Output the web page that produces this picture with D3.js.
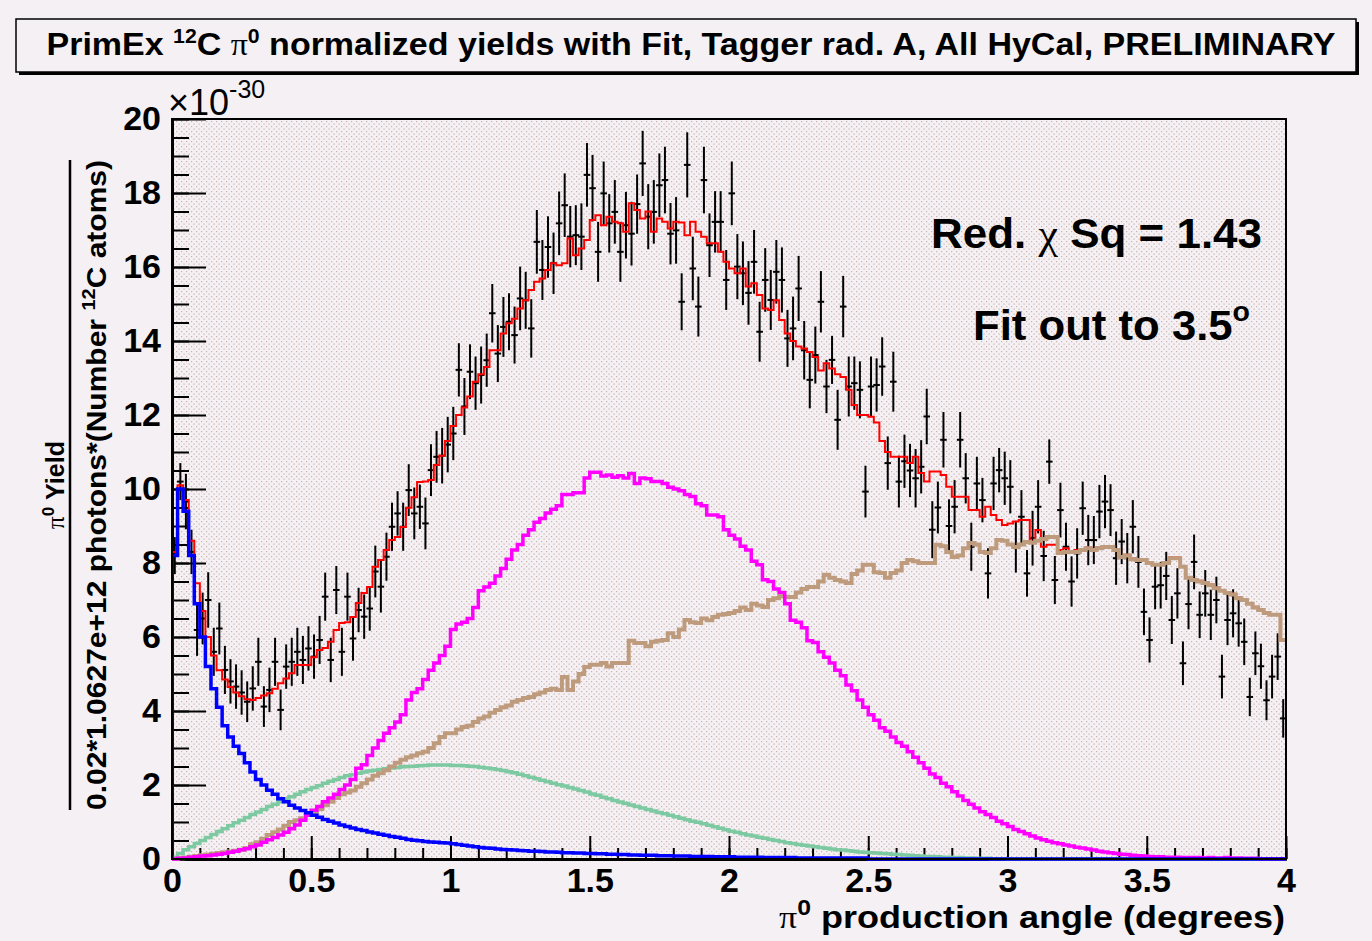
<!doctype html>
<html>
  <head>
    <meta charset="utf-8">
    <title>PrimEx 12C pi0 yields</title>
    <script src="https://cdnjs.cloudflare.com/ajax/libs/d3/7.8.5/d3.min.js"></script>
    <style>
      body { margin: 0; background: #f4f0f4; }
      svg text { font-family: "Liberation Sans", Arial, sans-serif; font-weight: bold; fill: #000; }
      .serif { font-family: "Liberation Serif", "DejaVu Serif", serif; font-weight: normal; }
    </style>
  </head>
  <body>
    <div id="chart"></div>
    <script>

    // bins of 0.02 degrees from 0 to 4 (200 bins), one row = 10 bins = 0.2 deg
    let binWidth = 0.02;

    // measured yield (units of 1e-30) and its error
    let dataYield = [
      8.2, 10.2, 9.66, 8.3, 6.19, 6.5, 7.0, 5.6, 6.23, 5.11,
      4.8, 4.66, 4.5, 4.25, 4.61, 5.33, 4.12, 4.57, 5.33, 4.03,
      5.2, 5.33, 5.6, 5.38, 5.69, 5.47, 5.92, 7.09, 5.38, 7.27,
      5.6, 7.09, 5.96, 6.73, 6.55, 6.77, 7.77, 7.36, 8.17, 8.98,
      9.34, 8.98, 9.97, 9.34, 9.52, 9.07, 10.51, 10.87, 10.9, 11.2,
      11.5, 13.22, 12.23, 13.17, 12.86, 13.08, 13.48, 14.75, 13.66, 14.38,
      14.52, 14.16, 15.15, 15.1, 14.34, 16.68, 15.92, 16.54, 16.1, 17.18,
      17.67, 16.82, 16.86, 16.82, 18.49, 18.13, 16.41, 17.99, 17.18, 17.49,
      16.41, 17.13, 16.9, 17.7, 18.8, 17.36, 17.49, 18.21, 18.35, 16.9,
      16.99, 15.06, 18.76, 15.96, 14.93, 18.35, 16.59, 17.22, 17.22, 15.65,
      17.99, 16.01, 15.83, 15.3, 16.14, 14.25, 15.65, 15.11, 15.87, 15.65,
      14.07, 14.34, 15.42, 13.75, 12.95, 13.62, 15.06, 12.77, 13.49, 11.87,
      14.93, 12.77, 12.86, 12.68, 9.93, 12.77, 12.81, 13.31, 10.7, 12.9,
      10.2, 10.75, 10.5, 10.29, 10.6, 11.96, 8.9, 9.5, 11.33, 9.0,
      9.52, 11.33, 10.29, 8.44, 10.15, 9.7, 7.72, 10.15, 10.51, 10.29,
      10.06, 8.44, 9.25, 7.72, 8.67, 9.52, 8.19, 10.74, 7.54, 9.43,
      8.44, 7.5, 8.26, 9.48, 8.62, 8.62, 9.39, 9.66, 9.43, 8.13,
      8.58, 8.13, 8.98, 8.03, 6.68, 5.92, 7.36, 7.4, 7.65, 6.46,
      7.18, 5.29, 6.89, 8.03, 6.6, 7.18, 6.6, 7.0, 4.93, 6.46,
      6.64, 6.37, 5.87, 4.38, 5.56, 5.21, 4.29, 4.93, 5.47, 3.8
    ];
    let dataError = [
      0.5, 0.5, 0.75, 0.6, 0.7, 0.7, 0.75, 0.65, 0.7, 0.65,
      0.6, 0.6, 0.6, 0.55, 0.6, 0.65, 0.55, 0.6, 0.65, 0.55,
      0.6, 0.65, 0.65, 0.65, 0.6, 0.6, 0.65, 0.65, 0.6, 0.65,
      0.65, 0.65, 0.6, 0.6, 0.6, 0.6, 0.7, 0.7, 0.65, 0.65,
      0.6, 0.65, 0.7, 0.7, 0.6, 0.7, 0.7, 0.7, 0.75, 0.75,
      0.72, 0.72, 0.77, 0.74, 0.72, 0.77, 0.72, 0.79, 0.77, 0.81,
      0.77, 0.77, 0.86, 0.77, 0.79, 0.86, 0.81, 0.83, 0.83, 0.86,
      0.86, 0.83, 0.81, 0.9, 0.86, 0.9, 0.81, 0.86, 0.79, 0.86,
      0.81, 0.9, 0.86, 0.8, 0.88, 0.88, 0.86, 0.86, 0.9, 0.83,
      0.9, 0.77, 0.88, 0.86, 0.81, 0.9, 0.86, 0.83, 0.83, 0.81,
      0.86, 0.88, 0.86, 0.86, 0.86, 0.81, 0.86, 0.81, 0.86, 0.88,
      0.77, 0.86, 0.88, 0.79, 0.77, 0.77, 0.83, 0.72, 0.65, 0.81,
      0.83, 0.81, 0.72, 0.77, 0.7, 0.81, 0.72, 0.79, 0.72, 0.81,
      0.7, 0.72, 0.72, 0.79, 0.72, 0.75, 0.77, 0.7, 0.75, 0.72,
      0.72, 0.75, 0.68, 0.65, 0.72, 0.6, 0.68, 0.72, 0.6, 0.72,
      0.72, 0.7, 0.72, 0.63, 0.74, 0.72, 0.68, 0.6, 0.65, 0.74,
      0.65, 0.68, 0.68, 0.72, 0.68, 0.65, 0.72, 0.72, 0.7, 0.72,
      0.61, 0.68, 0.72, 0.7, 0.63, 0.61, 0.61, 0.63, 0.65, 0.65,
      0.68, 0.59, 0.68, 0.74, 0.63, 0.63, 0.68, 0.63, 0.59, 0.68,
      0.65, 0.63, 0.63, 0.52, 0.59, 0.61, 0.54, 0.59, 0.63, 0.52
    ];

    // total fit (red)
    let fitTotal = [
      8.3, 10.1, 9.7, 8.6, 7.45, 6.7, 6.0, 5.5, 5.1, 4.85,
      4.65, 4.5, 4.4, 4.32, 4.3, 4.35, 4.42, 4.48, 4.6, 4.75,
      4.88, 5.02, 5.24, 5.24, 5.24, 5.45, 5.65, 5.7, 5.87, 6.19,
      6.38, 6.4, 6.54, 6.92, 7.19, 7.35, 7.9, 8.08, 8.35, 8.62,
      8.7, 8.97, 9.49, 9.78, 10.19, 10.2, 10.24, 10.65, 10.9, 11.3,
      11.7, 12.0, 12.2, 12.5, 12.9, 13.1, 13.3, 13.75, 13.75, 14.2,
      14.48, 14.6, 14.88, 15.1, 15.38, 15.6, 15.69, 15.92, 16.1, 16.05,
      16.1, 16.77, 16.32, 16.5, 16.73, 17.27, 17.4, 17.13, 17.36, 17.22,
      17.18, 16.95, 17.72, 17.54, 17.31, 17.5, 16.95, 17.31, 17.22, 17.04,
      17.22, 17.2, 16.86, 17.22, 16.95, 16.82, 16.64, 16.64, 16.41, 16.14,
      15.96, 15.83, 15.96, 15.47, 15.56, 15.24, 14.88, 14.84, 15.1, 14.57,
      14.2, 14.0, 13.85, 13.8, 13.7, 13.57, 13.2, 13.4, 13.26, 13.1,
      13.03, 12.68, 12.27, 12.0, 12.0, 11.95, 11.8, 11.3, 11.0, 10.87,
      10.87, 10.87, 10.7, 10.87, 10.43, 10.2, 10.47, 10.47, 10.38, 10.06,
      9.79, 9.79, 9.79, 9.43, 9.43, 9.25, 9.52, 9.3, 9.16, 9.03,
      9.07, 9.12, 9.16, 9.16, 8.58, 8.89, 8.44, 8.49, 8.49, 8.35,
      8.4, 8.3, 8.35, 8.38, 8.42, 8.38, 8.42, 8.45, 8.45, 8.37,
      8.18, 8.22, 8.12, 8.1, 8.1, 8.02, 7.97, 7.97, 8.02, 8.15,
      8.15, 7.92, 7.62, 7.56, 7.52, 7.48, 7.42, 7.34, 7.27, 7.21,
      7.17, 7.07, 7.02, 6.92, 6.82, 6.75, 6.67, 6.62, 6.62, 5.94
    ];

    // fit components
    let compBlue = [
      8.2, 10.0, 9.4, 8.2, 6.9, 6.0, 5.2, 4.6, 4.1, 3.6,
      3.3, 3.05, 2.85, 2.6, 2.35, 2.15, 2.0, 1.86, 1.75, 1.63,
      1.55, 1.45, 1.38, 1.31, 1.25, 1.18, 1.13, 1.07, 1.02, 0.97,
      0.92, 0.88, 0.84, 0.8, 0.77, 0.73, 0.7, 0.67, 0.64, 0.61,
      0.59, 0.56, 0.53, 0.51, 0.49, 0.47, 0.46, 0.45, 0.44, 0.43,
      0.41, 0.39, 0.37, 0.35, 0.33, 0.31, 0.3, 0.29, 0.27, 0.26,
      0.25, 0.24, 0.23, 0.22, 0.21, 0.21, 0.2, 0.19, 0.19, 0.18,
      0.17, 0.17, 0.16, 0.16, 0.15, 0.15, 0.14, 0.14, 0.13, 0.13,
      0.12, 0.12, 0.11, 0.11, 0.1, 0.1, 0.1, 0.09, 0.09, 0.09,
      0.08, 0.08, 0.08, 0.07, 0.07, 0.07, 0.07, 0.06, 0.06, 0.06,
      0.06, 0.05, 0.05, 0.05, 0.05, 0.05, 0.04, 0.04, 0.04, 0.04,
      0.04, 0.04, 0.03, 0.03, 0.03, 0.03, 0.03, 0.03, 0.03, 0.03,
      0.03, 0.03, 0.03, 0.03, 0.03, 0, 0, 0, 0, 0,
      0, 0, 0, 0, 0, 0, 0, 0, 0, 0,
      0, 0, 0, 0, 0, 0, 0, 0, 0, 0,
      0, 0, 0, 0, 0, 0, 0, 0, 0, 0,
      0, 0, 0, 0, 0, 0, 0, 0, 0, 0,
      0, 0, 0, 0, 0, 0, 0, 0, 0, 0,
      0, 0, 0, 0, 0, 0, 0, 0, 0, 0,
      0, 0, 0, 0, 0, 0, 0, 0, 0, 0
    ];
    let compMagenta = [
      0, 0.02, 0.03, 0.05, 0.06, 0.08, 0.09, 0.11, 0.13, 0.15,
      0.18, 0.21, 0.25, 0.28, 0.33, 0.38, 0.45, 0.52, 0.58, 0.65,
      0.72, 0.82, 0.92, 1.05, 1.18, 1.32, 1.42, 1.55, 1.65, 1.75,
      1.88, 2.0, 2.15, 2.45, 2.55, 2.8, 3.0, 3.2, 3.4, 3.55,
      3.7, 3.9, 4.3, 4.5, 4.6, 4.85, 5.1, 5.3, 5.5, 5.75,
      6.2, 6.35, 6.4, 6.5, 6.8, 7.25, 7.35, 7.45, 7.65, 7.85,
      8.1, 8.35, 8.5, 8.75, 8.9, 9.1, 9.2, 9.35, 9.45, 9.55,
      9.85, 9.85, 9.9, 9.9, 10.3, 10.45, 10.45, 10.35, 10.38, 10.32,
      10.36, 10.3, 10.42, 10.15, 10.3, 10.28, 10.2, 10.2, 10.15, 10.05,
      10.0, 9.95, 9.85, 9.8, 9.6, 9.55, 9.3, 9.3, 9.25, 8.9,
      8.75, 8.65, 8.45, 8.35, 8.05, 7.95, 7.55, 7.5, 7.3, 7.2,
      6.9, 6.45, 6.4, 6.25, 5.9, 5.85, 5.6, 5.45, 5.3, 5.1,
      4.95, 4.7, 4.55, 4.3, 4.1, 3.9, 3.75, 3.55, 3.45, 3.3,
      3.15, 3.05, 2.9, 2.75, 2.6, 2.45, 2.3, 2.2, 2.05, 1.95,
      1.82, 1.7, 1.58, 1.48, 1.38, 1.28, 1.2, 1.12, 1.02, 0.95,
      0.88, 0.8, 0.74, 0.68, 0.62, 0.57, 0.52, 0.48, 0.44, 0.41,
      0.38, 0.35, 0.32, 0.3, 0.27, 0.24, 0.21, 0.19, 0.17, 0.15,
      0.13, 0.12, 0.1, 0.09, 0.08, 0.07, 0.06, 0.06, 0.05, 0.05,
      0.05, 0.04, 0.04, 0.04, 0.04, 0.03, 0.04, 0.03, 0.03, 0.04,
      0.03, 0.03, 0.02, 0.02, 0.02, 0.01, 0.01, 0.01, 0.01, 0.01
    ];
    let compGreen = [
      0.05, 0.15, 0.25, 0.33, 0.42, 0.5, 0.58, 0.66, 0.74, 0.82,
      0.9, 0.98, 1.05, 1.12, 1.2, 1.27, 1.34, 1.42, 1.48, 1.55,
      1.62, 1.68, 1.75, 1.82, 1.88, 1.93, 1.98, 2.05, 2.1, 2.15,
      2.2, 2.25, 2.28, 2.32, 2.35, 2.38, 2.4, 2.42, 2.44, 2.46,
      2.47, 2.49, 2.5, 2.51, 2.52, 2.53, 2.54, 2.54, 2.54, 2.54,
      2.53, 2.53, 2.52, 2.51, 2.5, 2.48, 2.46, 2.44, 2.42, 2.39,
      2.36, 2.33, 2.29, 2.25, 2.21, 2.17, 2.13, 2.09, 2.05, 2.01,
      1.97, 1.93, 1.89, 1.85, 1.81, 1.76, 1.72, 1.67, 1.63, 1.58,
      1.54, 1.5, 1.46, 1.42, 1.38, 1.34, 1.3, 1.26, 1.22, 1.18,
      1.14, 1.1, 1.06, 1.02, 0.99, 0.95, 0.91, 0.87, 0.83, 0.79,
      0.75, 0.72, 0.68, 0.65, 0.62, 0.59, 0.56, 0.53, 0.5, 0.47,
      0.44, 0.42, 0.39, 0.37, 0.35, 0.33, 0.31, 0.29, 0.27, 0.25,
      0.24, 0.22, 0.21, 0.19, 0.18, 0.17, 0.16, 0.15, 0.14, 0.13,
      0.12, 0.11, 0.1, 0.09, 0.08, 0.07, 0.07, 0.06, 0.05, 0.05,
      0.04, 0.04, 0.03, 0.03, 0.02, 0.02, 0.02, 0.01, 0.01, 0.01,
      0, 0, 0, 0, 0, 0, 0, 0, 0, 0,
      0, 0, 0, 0, 0, 0, 0, 0, 0, 0,
      0, 0, 0, 0, 0, 0, 0, 0, 0, 0,
      0, 0, 0, 0, 0, 0, 0, 0, 0, 0,
      0, 0, 0, 0, 0, 0, 0, 0, 0, 0
    ];
    let compBrown = [
      0, 0.02, 0.04, 0.06, 0.08, 0.1, 0.12, 0.14, 0.16, 0.18,
      0.2, 0.22, 0.25, 0.3, 0.4, 0.45, 0.55, 0.65, 0.72, 0.8,
      0.9, 1.0, 1.05, 1.1, 1.2, 1.25, 1.35, 1.45, 1.55, 1.65,
      1.75, 1.8, 1.85, 1.95, 2.05, 2.15, 2.25, 2.32, 2.4, 2.5,
      2.6, 2.68, 2.75, 2.8, 2.86, 2.9, 3.0, 3.13, 3.3, 3.4,
      3.4, 3.5, 3.57, 3.6, 3.7, 3.8, 3.85, 3.95, 4.03, 4.1,
      4.15, 4.25, 4.3, 4.35, 4.38, 4.45, 4.5, 4.57, 4.6, 4.57,
      4.92, 4.57, 4.8, 5.0, 5.19, 5.25, 5.25, 5.3, 5.2, 5.3,
      5.3, 5.3, 5.9, 5.84, 5.84, 5.75, 5.87, 5.9, 5.92, 6.1,
      6.0, 6.2, 6.46, 6.4, 6.38, 6.5, 6.45, 6.54, 6.6, 6.62,
      6.65, 6.7, 6.8, 6.73, 6.9, 6.85, 6.81, 7.0, 7.05, 7.1,
      7.08, 7.08, 7.2, 7.3, 7.35, 7.35, 7.5, 7.68, 7.6, 7.54,
      7.5, 7.46, 7.7, 7.8, 7.95, 7.95, 7.75, 7.73, 7.6, 7.73,
      7.8, 8.0, 8.08, 8.05, 8.0, 8.0, 8.0, 8.49, 8.45, 8.3,
      8.16, 8.2, 8.4, 8.54, 8.5, 8.3, 8.27, 8.4, 8.62, 8.6,
      8.5, 8.43, 8.5, 8.57, 8.55, 8.6, 8.65, 8.7, 8.7, 8.27,
      8.3, 8.3, 8.3, 8.35, 8.4, 8.35, 8.4, 8.43, 8.43, 8.35,
      8.16, 8.2, 8.1, 8.08, 8.08, 8.0, 7.95, 7.95, 8.0, 8.13,
      8.13, 7.9, 7.6, 7.54, 7.5, 7.46, 7.4, 7.32, 7.25, 7.19,
      7.15, 7.05, 7.0, 6.9, 6.8, 6.73, 6.65, 6.6, 6.6, 5.92
    ];

    // axis ticks
    let xMajorTicks = [0, 0.5, 1, 1.5, 2, 2.5, 3, 3.5, 4];
    let xTickLabels = ["0", "0.5", "1", "1.5", "2", "2.5", "3", "3.5", "4"];
    let yMajorTicks = [0, 2, 4, 6, 8, 10, 12, 14, 16, 18, 20];
    let yTickLabels = ["0", "2", "4", "6", "8", "10", "12", "14", "16", "18", "20"];

    // frame of the pad
    let padLeft = 172, padRight = 1286, padTop = 119, padBottom = 859;

    let svg = d3.select("#chart").append("svg")
      .attr("width", 1372)
      .attr("height", 941);

    let defs = svg.append("defs");
    let pat = defs.append("pattern")
      .attr("id", "dots")
      .attr("patternUnits", "userSpaceOnUse")
      .attr("width", 5).attr("height", 5);
    pat.append("rect").attr("width", 5).attr("height", 5).attr("fill", "#f4f0f4");
    pat.append("rect").attr("x", 1).attr("y", 1).attr("width", 1.2).attr("height", 1.2).attr("fill", "#c8b2aa");
    pat.append("rect").attr("x", 3.5).attr("y", 3.5).attr("width", 1.2).attr("height", 1.2).attr("fill", "#c8b2aa");
    defs.append("clipPath").attr("id", "plotclip")
      .append("rect").attr("x", padLeft).attr("y", padTop - 2)
      .attr("width", padRight - padLeft).attr("height", padBottom - padTop + 4);

    svg.append("rect").attr("width", 1372).attr("height", 941).attr("fill", "#f4f0f4");

    // title box with shadow
    svg.append("rect").attr("x", 19).attr("y", 22).attr("width", 1340).attr("height", 53).attr("fill", "#000");
    svg.append("rect").attr("x", 16).attr("y", 19).attr("width", 1340).attr("height", 53)
      .attr("fill", "#f4f0f4").attr("stroke", "#000").attr("stroke-width", 1.5);
    let title = svg.append("text").attr("x", 691).attr("y", 55)
      .attr("text-anchor", "middle").style("font-size", "32px")
      .attr("textLength", 1289).attr("lengthAdjust", "spacingAndGlyphs");
    title.append("tspan").text("PrimEx ");
    title.append("tspan").attr("dy", -12).style("font-size", "20px").text("12");
    title.append("tspan").attr("dy", 12).text("C ");
    title.append("tspan").attr("class", "serif").text("\u03c0");
    title.append("tspan").attr("dy", -12).style("font-size", "20px").text("0");
    title.append("tspan").attr("dy", 12).text(" normalized yields with Fit, Tagger rad. A, All HyCal, PRELIMINARY");

    // scales
    let x = d3.scaleLinear().domain([0, 4]).range([padLeft, padRight]);
    let y = d3.scaleLinear().domain([0, 20]).range([padBottom, padTop]);

    // pad background
    svg.append("rect").attr("x", padLeft).attr("y", padTop)
      .attr("width", padRight - padLeft).attr("height", padBottom - padTop)
      .attr("fill", "url(#dots)");

    // axes, ticks drawn inward like ROOT
    let xMinor = d3.range(0, 4.001, 0.1);
    let yMinor = d3.range(0, 20.001, 0.5);
    svg.append("g").attr("class", "axis").attr("transform", `translate(0,${padBottom})`)
      .call(d3.axisBottom(x).tickValues(xMinor).tickSize(-11).tickSizeOuter(0).tickFormat(""));
    svg.append("g").attr("class", "axis").attr("transform", `translate(${padLeft},0)`)
      .call(d3.axisLeft(y).tickValues(yMinor).tickSize(-17).tickSizeOuter(0).tickFormat(""));
    svg.append("g").attr("class", "axis").attr("transform", `translate(0,${padBottom})`)
      .call(d3.axisBottom(x).tickValues(xMajorTicks).tickSize(-23).tickSizeOuter(0).tickPadding(9)
        .tickFormat((d, i) => xTickLabels[i]));
    svg.append("g").attr("class", "axis").attr("transform", `translate(${padLeft},0)`)
      .call(d3.axisLeft(y).tickValues(yMajorTicks).tickSize(-34).tickSizeOuter(0).tickPadding(11)
        .tickFormat((d, i) => yTickLabels[i]));
    svg.selectAll(".axis line").attr("stroke", "#000").attr("stroke-width", 2);
    svg.selectAll(".axis .domain").attr("stroke", "#000").attr("stroke-width", 3);
    svg.selectAll(".axis text").style("font-size", "34px").attr("font-family", null);

    // data points with error bars
    let bins = d3.range(dataYield.length);
    let plot = svg.append("g").attr("clip-path", "url(#plotclip)");
    let pts = plot.append("g").attr("stroke", "#000").attr("stroke-width", 2);
    pts.selectAll(".ebar").data(bins).join("line")
      .attr("class", "ebar")
      .attr("x1", i => x((i + 0.5) * binWidth)).attr("x2", i => x((i + 0.5) * binWidth))
      .attr("y1", i => y(dataYield[i] - dataError[i])).attr("y2", i => y(dataYield[i] + dataError[i]));
    pts.selectAll(".hbar").data(bins).join("line")
      .attr("class", "hbar")
      .attr("x1", i => x(i * binWidth) - 0.5).attr("x2", i => x((i + 1) * binWidth) + 0.5)
      .attr("y1", i => y(dataYield[i])).attr("y2", i => y(dataYield[i]));

    // step histograms
    function stepPoints(vals) {
      let p = [[0, 0]];
      vals.forEach((v, i) => p.push([i * binWidth, v]));
      p.push([vals.length * binWidth, vals[vals.length - 1]]);
      return p;
    }
    let step = d3.line().x(d => x(d[0])).y(d => y(d[1])).curve(d3.curveStepAfter);
    let hists = [
      { vals: fitTotal, color: "#ff0000", w: 2 },
      { vals: compGreen, color: "#7cc9a2", w: 3.5 },
      { vals: compBrown, color: "#bf9b7e", w: 4 },
      { vals: compMagenta, color: "#ff00ff", w: 3.5 },
      { vals: compBlue, color: "#0000ff", w: 3.5 }
    ];
    hists.forEach(h => {
      plot.append("path").attr("d", step(stepPoints(h.vals)))
        .attr("fill", "none").attr("stroke", h.color).attr("stroke-width", h.w)
        .attr("stroke-linejoin", "miter");
    });

    // frame on top
    svg.append("rect").attr("x", padLeft).attr("y", padTop)
      .attr("width", padRight - padLeft).attr("height", padBottom - padTop)
      .attr("fill", "none").attr("stroke", "#000").attr("stroke-width", 2);

    // exponent
    let expo = svg.append("text").attr("x", 168).attr("y", 115).style("font-size", "36px").style("font-weight", "normal");
    expo.append("tspan").text("\u00d710");
    expo.append("tspan").attr("dy", -17).style("font-size", "25px").text("-30");

    // x title
    let xt = svg.append("text").attr("x", 1285).attr("y", 928).attr("text-anchor", "end").style("font-size", "32px")
      .attr("textLength", 506).attr("lengthAdjust", "spacingAndGlyphs");
    xt.append("tspan").attr("class", "serif").text("\u03c0");
    xt.append("tspan").attr("dy", -13).style("font-size", "22px").text("0");
    xt.append("tspan").attr("dy", 13).text(" production angle (degrees)");

    // y title as a fraction
    let yt = svg.append("g").attr("transform", "translate(0,485) rotate(-90)");
    let num = yt.append("text").attr("x", 0).attr("y", 64).attr("text-anchor", "middle").style("font-size", "25px");
    num.append("tspan").attr("class", "serif").text("\u03c0");
    num.append("tspan").attr("dy", -10).style("font-size", "17px").text("0");
    num.append("tspan").attr("dy", 10).text(" Yield");
    yt.append("line").attr("x1", -325).attr("x2", 325).attr("y1", 70).attr("y2", 70)
      .attr("stroke", "#000").attr("stroke-width", 2.5);
    let den = yt.append("text").attr("x", 0).attr("y", 106).attr("text-anchor", "middle").style("font-size", "27px")
      .attr("textLength", 650).attr("lengthAdjust", "spacingAndGlyphs");
    den.append("tspan").text("0.02*1.0627e+12 photons*(Number ");
    den.append("tspan").attr("dy", -11).style("font-size", "18px").text("12");
    den.append("tspan").attr("dy", 11).text("C atoms)");

    // fit annotations
    let chi = svg.append("text").attr("x", 931).attr("y", 248).style("font-size", "43px")
      .attr("textLength", 331).attr("lengthAdjust", "spacingAndGlyphs");
    chi.append("tspan").text("Red. ");
    chi.append("tspan").attr("class", "serif").text("\u03c7");
    chi.append("tspan").text(" Sq = 1.43");
    let fitTo = svg.append("text").attr("x", 973).attr("y", 340).style("font-size", "43px")
      .attr("textLength", 277).attr("lengthAdjust", "spacingAndGlyphs");
    fitTo.append("tspan").text("Fit out to 3.5");
    fitTo.append("tspan").attr("dy", -19).style("font-size", "28px").text("o");

    </script>
  </body>
</html>
